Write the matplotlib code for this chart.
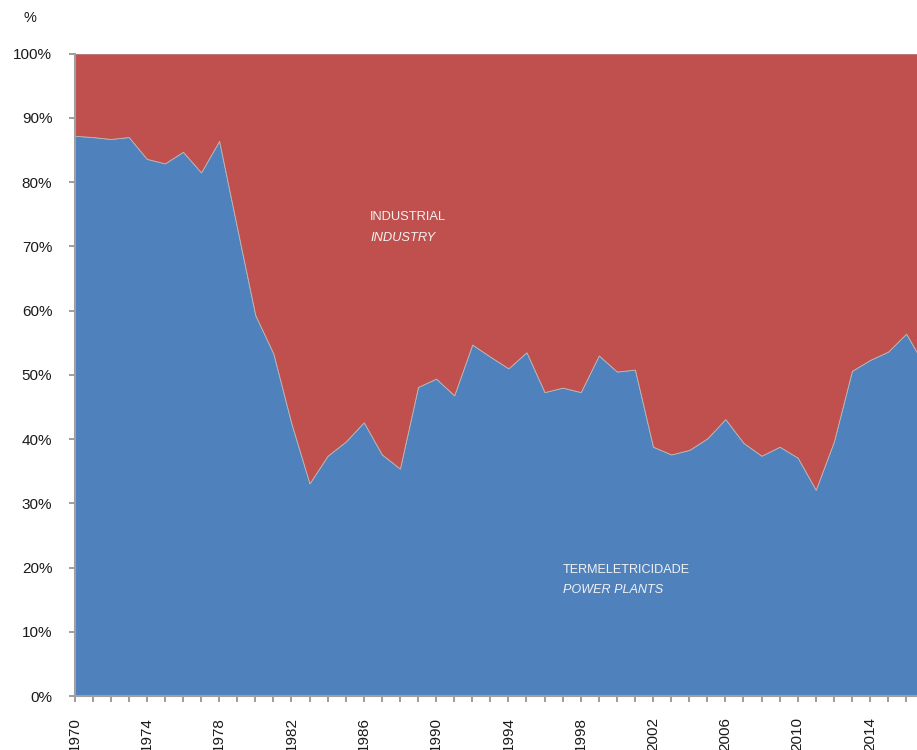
import matplotlib
matplotlib.use("Agg")
import matplotlib.pyplot as plt

# share of natural gas consumption, power plants vs industry (%)
years = list(range(1970, 2018))
power_plants = [87.2, 87.0, 86.7, 87.0, 83.6, 82.9, 84.7, 81.5, 86.4, 72.8,
                59.3, 53.3, 42.4, 33.1, 37.4, 39.6, 42.6, 37.6, 35.4, 48.1,
                49.4, 46.8, 54.7, 52.8, 51.0, 53.5, 47.3, 48.0, 47.3, 53.0,
                50.5, 50.8, 38.8, 37.6, 38.3, 40.1, 43.1, 39.4, 37.4, 38.8,
                37.1, 32.1, 39.6, 50.6, 52.3, 53.6, 56.4, 51.5]
industry = [100 - v for v in power_plants]

tick_years = [y for y in years if (y - 1970) % 4 == 0]

plt.rcParams['font.family'] = ['Liberation Sans', 'DejaVu Sans']

fig = plt.figure(figsize=(9.17, 7.5), dpi=100)
ax = fig.add_axes([74.5 / 917, 1 - 696 / 750, 1 - 74.5 / 917, (696 - 53.5) / 750])

ax.stackplot(years, power_plants, industry,
             colors=['#4F81BD', '#C0504D'], edgecolor='#B8B8B8', linewidth=0.6)

ax.set_yticks(range(0, 101, 10))
ax.set_yticklabels([f"{v}%" for v in range(0, 101, 10)])
ax.set_xticks(years)
ax.set_xticklabels([str(y) if y in tick_years else '' for y in years], rotation=90)

# limits after the ticks, otherwise set_xticks widens them to 2017
ax.set_xlim(1970, 2016.6)
ax.set_ylim(0, 100)

ax.tick_params(axis='y', length=4.5, width=1.2, color='#8C8C8C', pad=11.5,
               labelsize=11, labelcolor='#1A1A1A')
ax.tick_params(axis='x', length=4, width=1.2, color='#8C8C8C', pad=11,
               labelsize=11, labelcolor='#1A1A1A')

for side in ['top', 'right']:
    ax.spines[side].set_visible(False)
for side in ['left', 'bottom']:
    ax.spines[side].set_color('#A0A0A0')
    ax.spines[side].set_linewidth(1.5)

# unit label at the top
fig.text(24 / 917, 1 - 18 / 750, '%', fontsize=10.5, color='#1A1A1A', va='center')

# series labels
fig.text(370 / 917, 1 - 220 / 750, 'INDUSTRIAL', fontsize=9.3, color='#F2F2F2')
fig.text(370 / 917, 1 - 241 / 750, 'INDUSTRY', fontsize=9.3, color='#F2F2F2',
         style='italic')
fig.text(563 / 917, 1 - 573 / 750, 'TERMELETRICIDADE', fontsize=9.1, color='#F2F2F2')
fig.text(563 / 917, 1 - 593 / 750, 'POWER PLANTS', fontsize=9.1, color='#F2F2F2',
         style='italic')

fig.savefig('out.png', dpi=100)
